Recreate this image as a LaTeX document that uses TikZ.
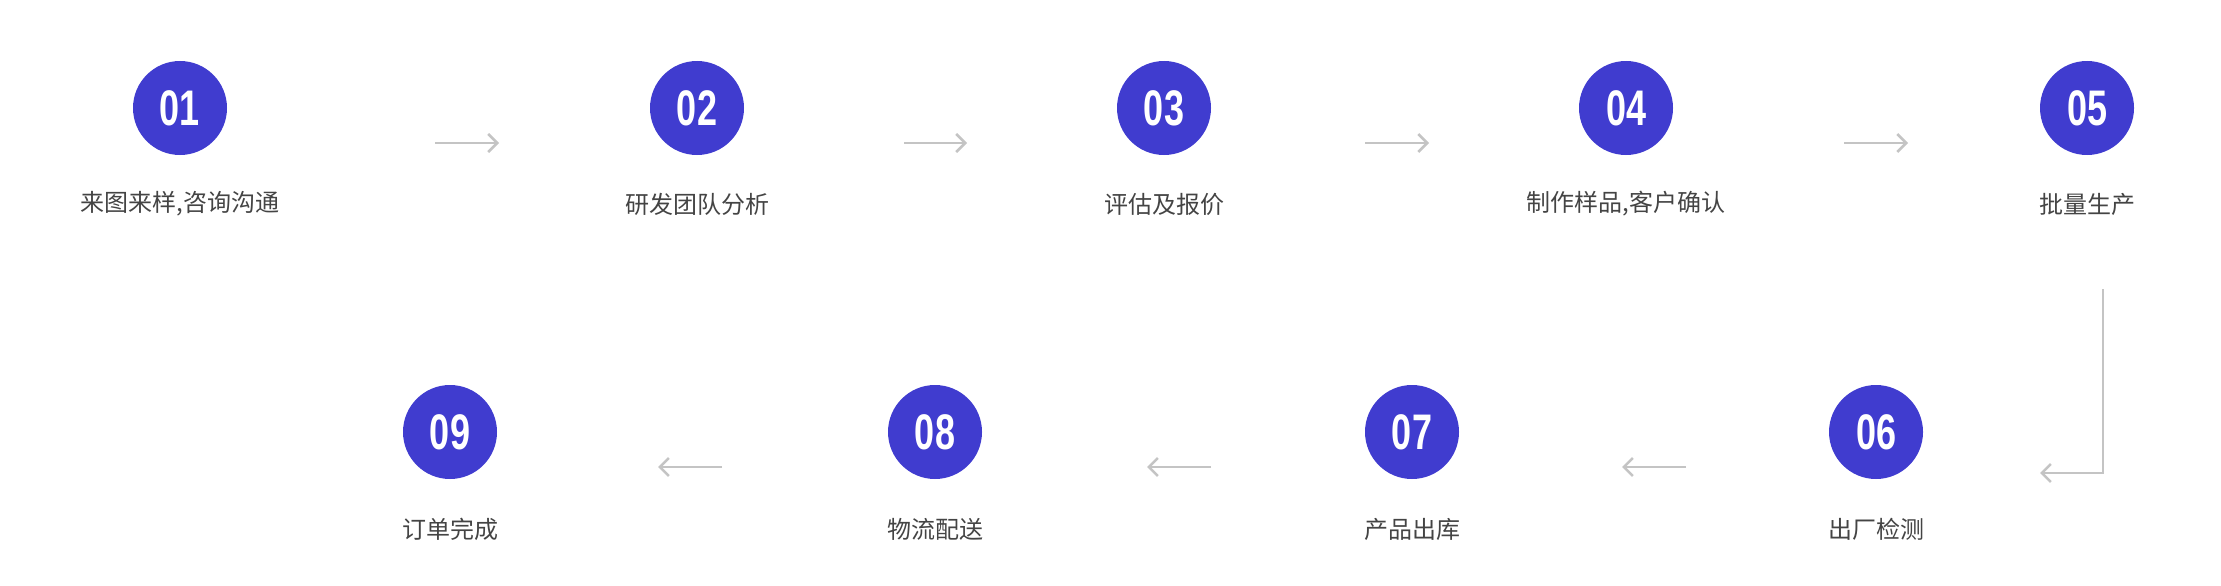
\documentclass[tikz,border=0pt]{standalone}
\usepackage{fontspec}
\setmainfont{Liberation Sans}
\newfontfamily\cjk{Noto Sans CJK SC}
\usetikzlibrary{arrows.meta}
\definecolor{stepblue}{HTML}{403CCF}
\definecolor{arrowgray}{HTML}{C4C4C4}
\definecolor{labelgray}{HTML}{444444}
\tikzset{
  stepdot/.style={circle,fill=stepblue,minimum size=94pt,inner sep=0pt,text=white,font=\fontsize{50}{50}\selectfont\bfseries},
  steplabel/.style={text=labelgray,font=\cjk\fontsize{24}{24}\selectfont},
  flow/.style={draw=arrowgray,line width=2.5pt,-{Straight Barb[length=9pt,width=18pt,line width=2.5pt]}}
}
\begin{document}
\begin{tikzpicture}[x=1pt,y=-1pt]
\useasboundingbox (0,0) rectangle (2221,586);
% first row
\node[stepdot] (s1) at (180,108) {\scalebox{.72}[1]{01}};
\node[stepdot] (s2) at (697,108) {\scalebox{.72}[1]{02}};
\node[stepdot] (s3) at (1164,108) {\scalebox{.72}[1]{03}};
\node[stepdot] (s4) at (1626,108) {\scalebox{.72}[1]{04}};
\node[stepdot] (s5) at (2087,108) {\scalebox{.72}[1]{05}};
\node[steplabel] (t1) at (180,204) {来图来样,咨询沟通};
\node[steplabel] (t2) at (697,204) {研发团队分析};
\node[steplabel] (t3) at (1164,204) {评估及报价};
\node[steplabel] (t4) at (1626,204) {制作样品,客户确认};
\node[steplabel] (t5) at (2087,204) {批量生产};
% second row
\node[stepdot] (s6) at (1876,432) {\scalebox{.72}[1]{06}};
\node[stepdot] (s7) at (1412,432) {\scalebox{.72}[1]{07}};
\node[stepdot] (s8) at (935,432) {\scalebox{.72}[1]{08}};
\node[stepdot] (s9) at (450,432) {\scalebox{.72}[1]{09}};
\node[steplabel] (t6) at (1876,529) {出厂检测};
\node[steplabel] (t7) at (1412,529) {产品出库};
\node[steplabel] (t8) at (935,529) {物流配送};
\node[steplabel] (t9) at (450,529) {订单完成};
% arrows
\coordinate (a1) at (435,143); \coordinate (b1) at (499,143);
\coordinate (a2) at (904,143); \coordinate (b2) at (967,143);
\coordinate (a3) at (1365,143); \coordinate (b3) at (1429,143);
\coordinate (a4) at (1844,143); \coordinate (b4) at (1908,143);
\foreach \i in {1,...,4} \draw[flow] (a\i) -- (b\i);
\coordinate (c1) at (2103,289); \coordinate (c2) at (2103,473); \coordinate (c3) at (2040,473);
\draw[flow] (c1) -- (c2) -- (c3);
\coordinate (a5) at (1686,467); \coordinate (b5) at (1622,467);
\coordinate (a6) at (1211,467); \coordinate (b6) at (1147,467);
\coordinate (a7) at (722,467); \coordinate (b7) at (658,467);
\foreach \i in {5,6,7} \draw[flow] (a\i) -- (b\i);
\end{tikzpicture}
\end{document}
